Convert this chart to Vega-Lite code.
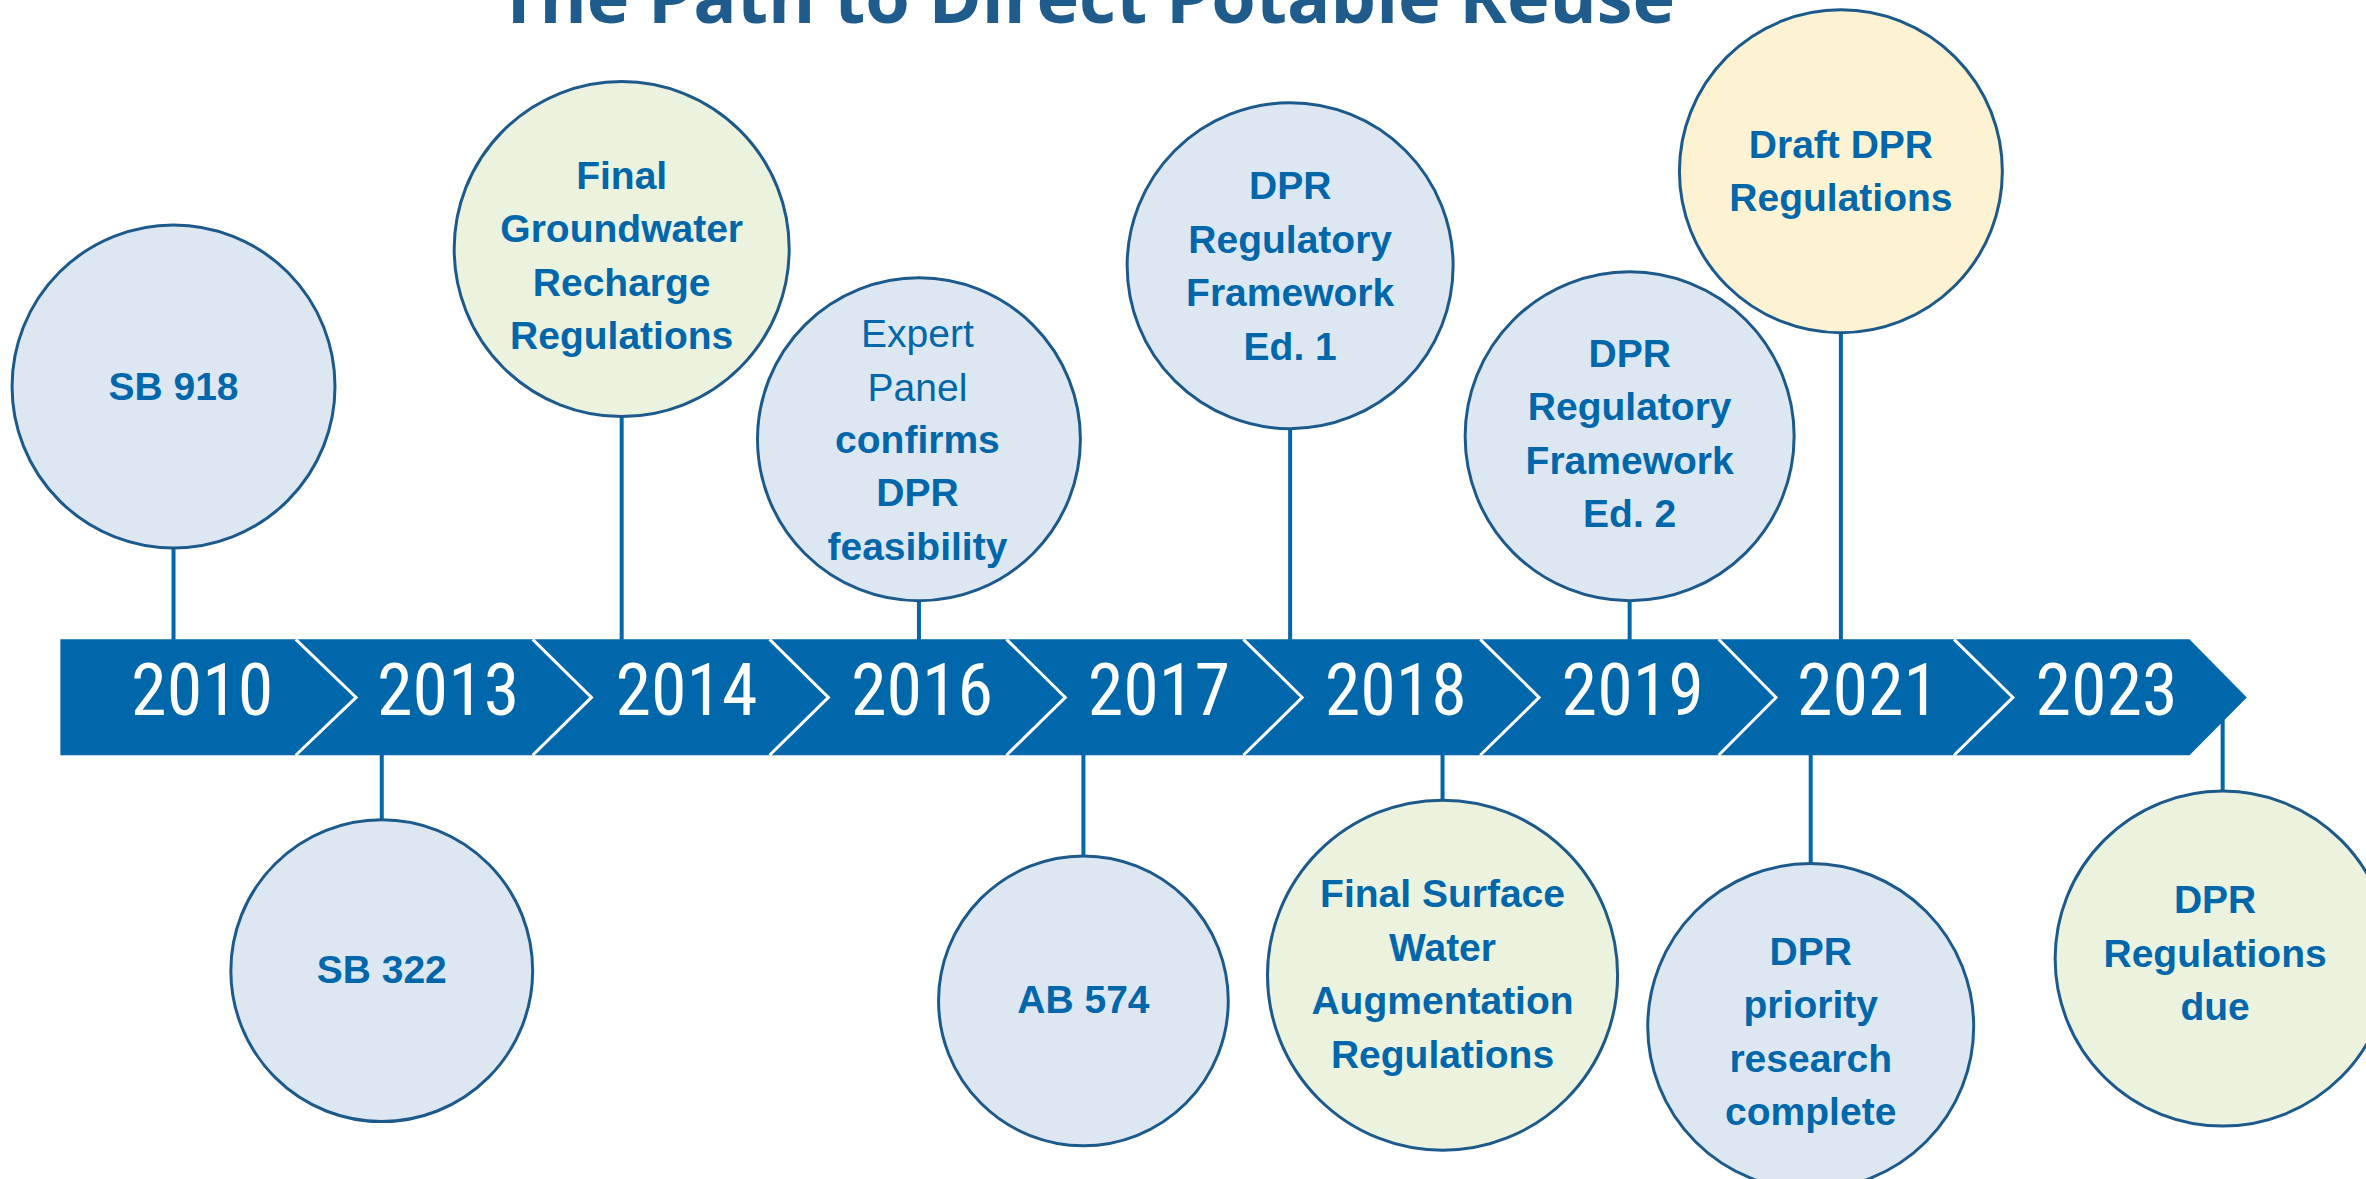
{
  "$schema": "https://vega.github.io/schema/vega-lite/v6.json",
  "width": 2366,
  "height": 1179,
  "autosize": "none",
  "padding": 0,
  "background": "white",
  "config": {"view": {"stroke": null}},
  "datasets": {
    "band": [
      {"x": 40, "top": 423.5, "bottom": 500.3},
      {"x": 1451, "top": 423.5, "bottom": 500.3},
      {"x": 1489, "top": 462, "bottom": 462}
    ],
    "chevrons": [
      {"id": 1, "pt": 1, "x": 196, "y": 423.5}, {"id": 1, "pt": 2, "x": 236, "y": 462}, {"id": 1, "pt": 3, "x": 196, "y": 500.3},
      {"id": 2, "pt": 1, "x": 353, "y": 423.5}, {"id": 2, "pt": 2, "x": 392, "y": 462}, {"id": 2, "pt": 3, "x": 353, "y": 500.3},
      {"id": 3, "pt": 1, "x": 510, "y": 423.5}, {"id": 3, "pt": 2, "x": 549, "y": 462}, {"id": 3, "pt": 3, "x": 510, "y": 500.3},
      {"id": 4, "pt": 1, "x": 667, "y": 423.5}, {"id": 4, "pt": 2, "x": 706, "y": 462}, {"id": 4, "pt": 3, "x": 667, "y": 500.3},
      {"id": 5, "pt": 1, "x": 824, "y": 423.5}, {"id": 5, "pt": 2, "x": 863, "y": 462}, {"id": 5, "pt": 3, "x": 824, "y": 500.3},
      {"id": 6, "pt": 1, "x": 981, "y": 423.5}, {"id": 6, "pt": 2, "x": 1020, "y": 462}, {"id": 6, "pt": 3, "x": 981, "y": 500.3},
      {"id": 7, "pt": 1, "x": 1139, "y": 423.5}, {"id": 7, "pt": 2, "x": 1177, "y": 462}, {"id": 7, "pt": 3, "x": 1139, "y": 500.3},
      {"id": 8, "pt": 1, "x": 1295, "y": 423.5}, {"id": 8, "pt": 2, "x": 1334, "y": 462}, {"id": 8, "pt": 3, "x": 1295, "y": 500.3}
    ],
    "years": [
      {"year": "2010", "x": 134, "y": 459},
      {"year": "2013", "x": 297, "y": 459},
      {"year": "2014", "x": 455, "y": 459},
      {"year": "2016", "x": 611, "y": 459},
      {"year": "2017", "x": 768, "y": 459},
      {"year": "2018", "x": 925, "y": 459},
      {"year": "2019", "x": 1082, "y": 459},
      {"year": "2021", "x": 1238, "y": 459},
      {"year": "2023", "x": 1396, "y": 459}
    ],
    "events": [
      {"event": "SB 918", "kind": "Milestone", "x": 115, "y": 256, "r": 107, "stemStart": 363, "stemEnd": 424},
      {"event": "SB 322", "kind": "Milestone", "x": 253, "y": 643, "r": 100, "stemStart": 500, "stemEnd": 543},
      {"event": "Final Groundwater Recharge Regulations", "kind": "Final regulations", "x": 412, "y": 165, "r": 111, "stemStart": 276, "stemEnd": 424},
      {"event": "Expert Panel confirms DPR feasibility", "kind": "Milestone", "x": 609, "y": 291, "r": 107, "stemStart": 398, "stemEnd": 424},
      {"event": "AB 574", "kind": "Milestone", "x": 718, "y": 663, "r": 96, "stemStart": 500, "stemEnd": 567},
      {"event": "DPR Regulatory Framework Ed. 1", "kind": "Milestone", "x": 855, "y": 176, "r": 108, "stemStart": 284, "stemEnd": 424},
      {"event": "Final Surface Water Augmentation Regulations", "kind": "Final regulations", "x": 956, "y": 646, "r": 116, "stemStart": 500, "stemEnd": 530},
      {"event": "DPR Regulatory Framework Ed. 2", "kind": "Milestone", "x": 1080, "y": 289, "r": 109, "stemStart": 398, "stemEnd": 424},
      {"event": "Draft DPR Regulations", "kind": "Draft regulations", "x": 1220, "y": 113.5, "r": 107, "stemStart": 220, "stemEnd": 424},
      {"event": "DPR priority research complete", "kind": "Milestone", "x": 1200, "y": 680, "r": 108, "stemStart": 500, "stemEnd": 572},
      {"event": "DPR Regulations due", "kind": "Final regulations", "x": 1473, "y": 635, "r": 111, "stemStart": 477, "stemEnd": 524}
    ],
    "labels": [
      {"text": "SB 918", "weight": "bold", "x": 115, "y": 257},
      {"text": "SB 322", "weight": "bold", "x": 253, "y": 643},
      {"text": "Final\nGroundwater\nRecharge\nRegulations", "weight": "bold", "x": 412, "y": 117},
      {"text": "Expert\nPanel", "weight": "normal", "x": 608, "y": 222},
      {"text": "confirms\nDPR\nfeasibility", "weight": "bold", "x": 608, "y": 292},
      {"text": "AB 574", "weight": "bold", "x": 718, "y": 663},
      {"text": "DPR\nRegulatory\nFramework\nEd. 1", "weight": "bold", "x": 855, "y": 124},
      {"text": "Final Surface\nWater\nAugmentation\nRegulations", "weight": "bold", "x": 956, "y": 593},
      {"text": "DPR\nRegulatory\nFramework\nEd. 2", "weight": "bold", "x": 1080, "y": 235},
      {"text": "Draft DPR\nRegulations", "weight": "bold", "x": 1220, "y": 96.5},
      {"text": "DPR\npriority\nresearch\ncomplete", "weight": "bold", "x": 1200, "y": 631},
      {"text": "DPR\nRegulations\ndue", "weight": "bold", "x": 1468, "y": 597}
    ],
    "heading": [
      {"text": "The Path to Direct Potable Reuse", "x": 720, "y": 15}
    ]
  },
  "layer": [
    {
      "data": {"name": "band"},
      "mark": {"type": "area", "color": "#0067ab", "opacity": 1},
      "encoding": {
        "x": {"field": "x", "type": "quantitative", "scale": {"domain": [0, 1568], "nice": false, "zero": false}, "axis": null},
        "y": {"field": "top", "type": "quantitative", "scale": {"domain": [0, 781], "nice": false, "zero": false, "reverse": true}, "axis": null},
        "y2": {"field": "bottom"}
      }
    },
    {
      "data": {"name": "chevrons"},
      "mark": {"type": "line", "color": "white", "strokeWidth": 3, "strokeJoin": "miter"},
      "encoding": {
        "x": {"field": "x", "type": "quantitative"},
        "y": {"field": "y", "type": "quantitative"},
        "detail": {"field": "id", "type": "nominal"},
        "order": {"field": "pt", "type": "quantitative"}
      }
    },
    {
      "data": {"name": "years"},
      "mark": {"type": "text", "color": "white", "font": "Roboto Condensed, Noto Sans Condensed, Liberation Sans", "fontSize": 72, "align": "center", "baseline": "middle"},
      "encoding": {
        "x": {"field": "x", "type": "quantitative"},
        "y": {"field": "y", "type": "quantitative"},
        "text": {"field": "year", "type": "nominal"}
      }
    },
    {
      "data": {"name": "events"},
      "mark": {"type": "rule", "color": "#0067ab", "strokeWidth": 4},
      "encoding": {
        "x": {"field": "x", "type": "quantitative"},
        "y": {"field": "stemStart", "type": "quantitative"},
        "y2": {"field": "stemEnd"}
      }
    },
    {
      "data": {"name": "events"},
      "mark": {"type": "point", "shape": "circle", "filled": true, "opacity": 1, "fillOpacity": 1, "stroke": "#1d5a8c", "strokeWidth": 3, "strokeOpacity": 1},
      "encoding": {
        "x": {"field": "x", "type": "quantitative"},
        "y": {"field": "y", "type": "quantitative"},
        "size": {"field": "r", "type": "quantitative", "scale": {"type": "pow", "exponent": 2, "domain": [0, 100], "range": [0, 91091], "zero": true}, "legend": null},
        "fill": {"field": "kind", "type": "nominal", "scale": {"domain": ["Milestone", "Final regulations", "Draft regulations"], "range": ["#dde7f2", "#ebf2dd", "#fdf2d2"]}, "legend": null}
      }
    },
    {
      "data": {"name": "labels"},
      "transform": [{"filter": "datum.weight === 'bold'"}],
      "mark": {"type": "text", "color": "#0067ab", "font": "Liberation Sans, Arial", "fontWeight": "bold", "fontSize": 39, "lineHeight": 53.5, "lineBreak": "\n", "align": "center", "baseline": "middle"},
      "encoding": {
        "x": {"field": "x", "type": "quantitative"},
        "y": {"field": "y", "type": "quantitative"},
        "text": {"field": "text", "type": "nominal"}
      }
    },
    {
      "data": {"name": "labels"},
      "transform": [{"filter": "datum.weight === 'normal'"}],
      "mark": {"type": "text", "color": "#0067ab", "font": "Liberation Sans, Arial", "fontWeight": "normal", "fontSize": 39, "lineHeight": 53.5, "lineBreak": "\n", "align": "center", "baseline": "middle"},
      "encoding": {
        "x": {"field": "x", "type": "quantitative"},
        "y": {"field": "y", "type": "quantitative"},
        "text": {"field": "text", "type": "nominal"}
      }
    },
    {
      "data": {"name": "heading"},
      "mark": {"type": "text", "color": "#1f5c8c", "font": "Open Sans", "fontWeight": "bold", "fontSize": 72, "align": "center", "baseline": "alphabetic"},
      "encoding": {
        "x": {"field": "x", "type": "quantitative"},
        "y": {"field": "y", "type": "quantitative"},
        "text": {"field": "text", "type": "nominal"}
      }
    }
  ]
}
